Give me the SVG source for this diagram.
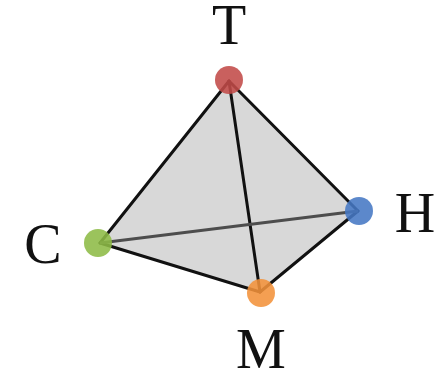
<svg xmlns="http://www.w3.org/2000/svg" width="446" height="375" viewBox="0 0 446 375">
<style>
.lbl{font-family:"Liberation Serif","Times New Roman",serif;font-size:56px;fill:#111;text-anchor:middle}
.e{stroke:#111;stroke-width:3;stroke-linecap:round;fill:none}
.dot{opacity:0.88}
</style>
<rect width="446" height="375" fill="#fff"/>
<polygon points="229,81 358,211 260,292 100,243" fill="#d8d8d8"/>
<g id="connectors">
<line class="e" x1="229" y1="81" x2="100" y2="243"/>
<line class="e" x1="229" y1="81" x2="358" y2="211"/>
<line class="e" x1="229" y1="81" x2="260" y2="292"/>
<line class="e" x1="100" y1="243" x2="260" y2="292"/>
<line class="e" x1="260" y1="292" x2="358" y2="211"/>
<line x1="100" y1="243" x2="358" y2="211" stroke="#4d4d4d" stroke-width="3"/>
</g>
<g id="T"><circle class="dot" cx="229" cy="80" r="14" fill="#c24a48"/><text class="lbl" x="229" y="44">T</text></g>
<g id="H"><circle class="dot" cx="359" cy="211" r="14" fill="#4677c4"/><text class="lbl" x="415" y="232">H</text></g>
<g id="C"><circle class="dot" cx="98" cy="243" r="14" fill="#8dbb46"/><text class="lbl" x="43" y="263">C</text></g>
<g id="M"><circle class="dot" cx="261" cy="293" r="14" fill="#f3923a"/><text class="lbl" x="261" y="368">M</text></g>
</svg>
